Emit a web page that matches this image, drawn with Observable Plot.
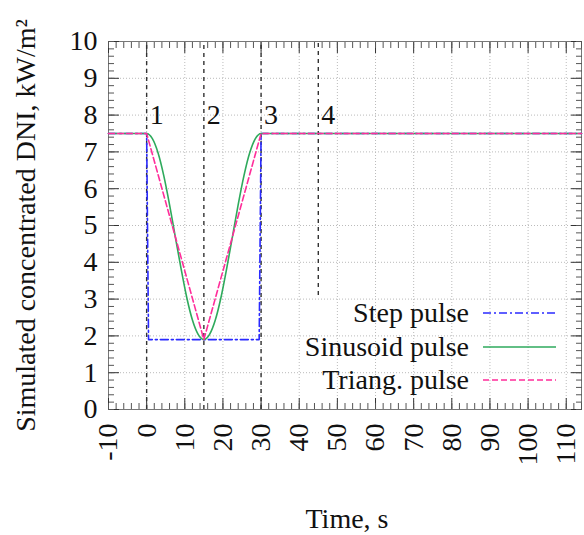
<!DOCTYPE html>
<html>
<head>
<meta charset="utf-8">
<script src="https://cdn.jsdelivr.net/npm/d3@7"></script>
<script src="https://cdn.jsdelivr.net/npm/@observablehq/plot@0.6"></script>
<style>
  body { margin: 0; background: #fff; }
</style>
</head>
<body>
<script>
// ---- data ----
const stepT   = [-10, 0, 0.5, 29.5, 30, 114];
const stepV   = [7.5, 7.5, 1.9, 1.9, 7.5, 7.5];

const sinT = [-10, 0, 1.5, 3, 4.5, 6, 7.5, 9, 10.5, 12, 13.5, 15, 16.5, 18, 19.5, 21, 22.5, 24, 25.5, 27, 28.5, 30, 114];
const sinV = [7.5, 7.5, 7.36, 6.97, 6.35, 5.57, 4.7, 3.84, 3.05, 2.43, 2.04, 1.9, 2.04, 2.43, 3.05, 3.84, 4.7, 5.57, 6.35, 6.97, 7.36, 7.5, 7.5];

const triT = [-10, 0, 15, 30, 114];
const triV = [7.5, 7.5, 1.9, 7.5, 7.5];

const eventT      = [0, 15, 30, 45];
const eventLabels = ["1", "2", "3", "4"];
const eventLow    = [0, 0, 0, 3.1];
const eventHigh   = [10, 10, 10, 10];
const eventLabelY = [8, 8, 8, 8];

const seriesNames  = ["Step pulse", "Sinusoid pulse", "Triang. pulse"];
const seriesColors = ["#2a2aff", "#2eaa5c", "#ff2d9a"];
const seriesDash   = ["8,3,2,3", null, "6,3"];

const xMajor = [-10, 0, 10, 20, 30, 40, 50, 60, 70, 80, 90, 100, 110];
const yMajor = [0, 1, 2, 3, 4, 5, 6, 7, 8, 9, 10];
const xMinor = d3.range(-10, 114.01, 2);
const yMinor = d3.range(0, 10.001, 0.2);

const xLabel = "Time, s";
const yLabel = "Simulated concentrated DNI, kW/m²";

// ---- tables ----
const stepData = stepT.map((t, i) => ({t, v: stepV[i]}));
const sinData  = sinT.map((t, i) => ({t, v: sinV[i]}));
const triData  = triT.map((t, i) => ({t, v: triV[i]}));
const events   = eventT.map((t, i) => ({t, label: eventLabels[i], lo: eventLow[i], hi: eventHigh[i], ly: eventLabelY[i]}));

const W = 584, H = 535;
const mL = 108, mT = 41, mR = 3, mB = 126;
const FS = 28;
const FONT = "'Liberation Serif', 'Times New Roman', serif";
const fmt = d => String(d);

const chart = Plot.plot({
  width: W,
  height: H,
  marginLeft: mL,
  marginTop: mT,
  marginRight: mR,
  marginBottom: mB,
  style: {fontFamily: FONT, fontSize: FS + "px", color: "#111", background: "#fff"},
  x: {domain: [-10, 114]},
  y: {domain: [0, 10]},
  marks: [
    Plot.gridX(xMajor, {stroke: "#bbb", strokeOpacity: 1, strokeDasharray: "1,2"}),
    Plot.gridY(yMajor, {stroke: "#bbb", strokeOpacity: 1, strokeDasharray: "1,2"}),
    Plot.frame({stroke: "#777"}),
    // tick labels
    Plot.axisY(yMajor, {anchor: "left", tickSize: 0, tickPadding: 11, tickFormat: fmt, label: null, fill: "#111", fontSize: FS}),
    Plot.axisX(xMajor, {anchor: "bottom", tickSize: 0, tickPadding: 14, tickRotate: -90, tickFormat: fmt, label: null, fill: "#111", fontSize: FS}),
    // inward ticks
    Plot.axisY(yMajor, {anchor: "left", tickSize: -11, tickFormat: () => "", label: null, stroke: "#333"}),
    Plot.axisY(yMinor, {anchor: "left", tickSize: -6, tickFormat: () => "", label: null, stroke: "#555"}),
    Plot.axisY(yMajor, {anchor: "right", tickSize: -11, tickFormat: () => "", label: null, stroke: "#333"}),
    Plot.axisY(yMinor, {anchor: "right", tickSize: -6, tickFormat: () => "", label: null, stroke: "#555"}),
    Plot.axisX(xMajor, {anchor: "bottom", tickSize: -11, tickFormat: () => "", label: null, stroke: "#333"}),
    Plot.axisX(xMinor, {anchor: "bottom", tickSize: -6, tickFormat: () => "", label: null, stroke: "#555"}),
    Plot.axisX(xMajor, {anchor: "top", tickSize: -11, tickFormat: () => "", label: null, stroke: "#333"}),
    Plot.axisX(xMinor, {anchor: "top", tickSize: -6, tickFormat: () => "", label: null, stroke: "#555"}),
    // event markers
    Plot.ruleX(events, {x: "t", y1: "lo", y2: "hi", stroke: "#333", strokeWidth: 1.4, strokeDasharray: "4,4"}),
    Plot.text(events, {x: "t", y: "ly", text: "label", textAnchor: "start", dx: 3, fill: "#111", fontSize: FS}),
    // series
    Plot.line(stepData, {x: "t", y: "v", stroke: seriesColors[0], strokeWidth: 1.6, strokeDasharray: seriesDash[0]}),
    Plot.line(sinData, {x: "t", y: "v", stroke: seriesColors[1], strokeWidth: 1.6, curve: "monotone-x"}),
    Plot.line(triData, {x: "t", y: "v", stroke: seriesColors[2], strokeWidth: 1.6, strokeDasharray: seriesDash[2]}),
    // axis labels
    Plot.text([xLabel], {frameAnchor: "bottom", text: d => d, dy: 110, dx: 2, lineAnchor: "middle", textAnchor: "middle", fill: "#111", fontSize: FS}),
    Plot.text([yLabel], {frameAnchor: "left", text: d => d, rotate: -90, dx: -82, lineAnchor: "middle", textAnchor: "middle", fill: "#111", fontSize: FS})
  ]
});

document.body.appendChild(chart);

// legend inside the frame, lower right
const svg = d3.select(chart);
const right = W - mR, bottom = H - mB;
const rowOffsets = [96, 62, 29];
const g = svg.append("g").attr("font-family", FONT).attr("font-size", FS);
seriesNames.forEach((name, i) => {
  const y = bottom - rowOffsets[i];
  g.append("text").attr("x", right - 112).attr("y", y).attr("dy", "0.32em")
    .attr("text-anchor", "end").attr("fill", "#111").text(name);
  const ln = g.append("line").attr("x1", right - 98).attr("x2", right - 25)
    .attr("y1", y).attr("y2", y).attr("stroke", seriesColors[i]).attr("stroke-width", 1.6);
  if (seriesDash[i]) ln.attr("stroke-dasharray", seriesDash[i]);
});
</script>
</body>
</html>
